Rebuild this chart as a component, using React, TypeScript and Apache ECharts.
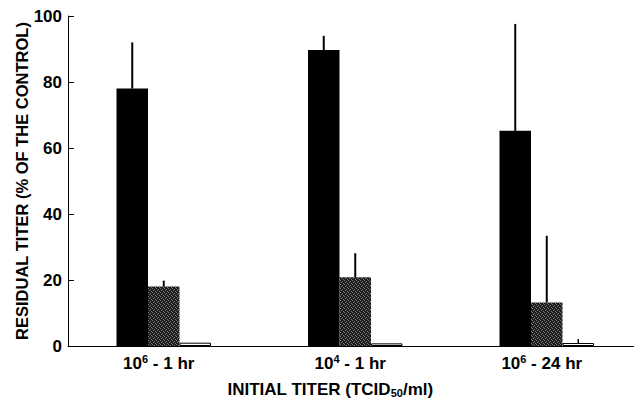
import React, { useEffect, useRef } from "react";
import * as echarts from "echarts";

const categoryBase = ["10", "10", "10"];
const categoryExp = ["6", "4", "6"];
const categorySuffix = [" - 1 hr", " - 1 hr", " - 24 hr"];
const categories = categoryBase.map((b, i) => `${b}^${categoryExp[i]}${categorySuffix[i]}`);

const blackValues = [78, 89.7, 65.2];
const blackErrors = [14, 4.3, 32.4];
const hatchValues = [18, 20.8, 13.2];
const hatchErrors = [1.8, 7.3, 20.2];
const whiteValues = [1.0, 0.8, 0.9];
const whiteErrors = [0, 0, 1.2];

const yTicks = [0, 20, 40, 60, 80, 100];

const BAR_W = 31.5;
const FONT = "'Liberation Sans', Arial, Helvetica, sans-serif";

function makeHatch(): string {
  const c = document.createElement("canvas");
  c.width = 4;
  c.height = 4;
  const ctx = c.getContext("2d")!;
  ctx.fillStyle = "#1c1c1c";
  ctx.fillRect(0, 0, 4, 4);
  ctx.fillStyle = "#7a7a7a";
  ctx.fillRect(0, 0, 1, 1);
  ctx.fillRect(2, 1, 1, 1);
  ctx.fillRect(1, 2, 1, 1);
  ctx.fillRect(3, 3, 1, 1);
  return c.toDataURL();
}

function errorSeries(values: number[], errors: number[], slot: number, width: number) {
  return {
    type: "custom",
    silent: true,
    z: 5,
    data: values.map((v, i) => [i, v, v + errors[i]]),
    renderItem: (params: any, api: any) => {
      const i = api.value(0);
      const lo = api.coord([i, api.value(1)]);
      const hi = api.coord([i, api.value(2)]);
      const x = lo[0] + slot * BAR_W;
      return {
        type: "line",
        shape: { x1: x, y1: lo[1], x2: x, y2: hi[1] },
        style: { stroke: "#000", lineWidth: width },
      };
    },
  };
}

export default function App() {
  const ref = useRef<HTMLDivElement>(null);
  useEffect(() => {
    const chart = echarts.init(ref.current!, null, { renderer: "svg" });
    const hatch = { image: makeHatch(), repeat: "repeat" };
    chart.setOption({
      animation: false,
      backgroundColor: "#fff",
      textStyle: { fontFamily: FONT },
      grid: { left: 68, right: -8.5, top: 16, bottom: 54, containLabel: false, outerBoundsMode: "none" },
      xAxis: {
        type: "category",
        data: categories,
        axisLine: { show: true, lineStyle: { color: "#000", width: 1 } },
        axisTick: { show: false },
        axisLabel: {
          margin: 7,
          padding: [0, 10, 0, 0],
          formatter: (v: string) => {
            const i = categories.indexOf(v);
            return `{b|${categoryBase[i]}}{sup|${categoryExp[i]}}{b|${categorySuffix[i]}}`;
          },
          rich: {
            b: { fontFamily: FONT, fontWeight: "bold", fontSize: 17, color: "#000", verticalAlign: "bottom", lineHeight: 19 },
            sup: { fontFamily: FONT, fontWeight: "bold", fontSize: 11, color: "#000", verticalAlign: "top", padding: [0, 0, 8, 0], lineHeight: 19 },
          },
        },
        name: "{t|INITIAL TITER (TCID}{sub|50}{t|/ml)}",
        nameLocation: "middle",
        nameGap: 33,
        nameTextStyle: {
          padding: [0, 50, 0, 0],
          rich: {
            t: { fontFamily: FONT, fontWeight: "bold", fontSize: 17, color: "#000", verticalAlign: "bottom", lineHeight: 19 },
            sub: { fontFamily: FONT, fontWeight: "bold", fontSize: 11, color: "#000", verticalAlign: "bottom", padding: [6, 0, 0, 0], lineHeight: 14 },
          },
        },
      },
      yAxis: {
        type: "value",
        min: 0,
        max: 100,
        interval: 20,
        axisLine: { show: true, lineStyle: { color: "#000", width: 1 } },
        axisTick: { show: true, inside: true, length: 6, lineStyle: { color: "#000" } },
        splitLine: { show: false },
        axisLabel: {
          margin: 6,
          fontFamily: FONT,
          fontWeight: "bold",
          fontSize: 17,
          color: "#000",
          formatter: (v: number) => (yTicks.includes(v) ? String(v) : ""),
        },
        name: "RESIDUAL TITER (% OF THE CONTROL)",
        nameLocation: "middle",
        nameMoveOverlap: false,
        nameGap: 38,
        nameTextStyle: { fontFamily: FONT, fontWeight: "bold", fontSize: 16.5, color: "#000" },
      },
      series: [
        {
          type: "bar",
          data: blackValues,
          barWidth: BAR_W,
          barGap: "0%",
          itemStyle: { color: "#000" },
        },
        {
          type: "bar",
          data: hatchValues,
          barWidth: BAR_W,
          barGap: "0%",
          itemStyle: { color: hatch },
        },
        {
          type: "bar",
          data: whiteValues,
          barWidth: BAR_W,
          barGap: "0%",
          itemStyle: { color: "#fff", borderColor: "#000", borderWidth: 1 },
        },
        errorSeries(blackValues, blackErrors, -1, 2),
        errorSeries(hatchValues, hatchErrors, 0, 2),
        errorSeries(whiteValues, whiteErrors, 1, 1.5),
      ],
    });
    return () => chart.dispose();
  }, []);
  return <div ref={ref} style={{ width: 634, height: 400, position: "absolute", left: 0, top: 0 }} />;
}
